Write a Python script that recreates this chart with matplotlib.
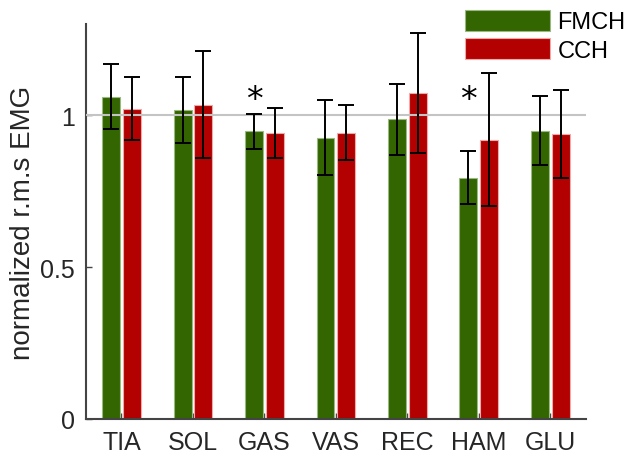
import matplotlib.pyplot as plt
import numpy as np

# muscles and mean normalized rms EMG per condition
muscles = ['TIA', 'SOL', 'GAS', 'VAS', 'REC', 'HAM', 'GLU']
fmch = [1.060, 1.017, 0.947, 0.926, 0.987, 0.794, 0.949]
fmch_err = [0.107, 0.110, 0.057, 0.124, 0.117, 0.087, 0.114]
cch = [1.022, 1.035, 0.942, 0.942, 1.073, 0.920, 0.939]
cch_err = [0.103, 0.175, 0.082, 0.091, 0.198, 0.218, 0.145]
significant = ['GAS', 'HAM']

plt.rcParams['font.family'] = ['Liberation Sans', 'DejaVu Sans']

fig = plt.figure(figsize=(6.26, 4.56), dpi=100)
ax = fig.add_axes([0.137, 0.079, 0.799, 0.866])

x = np.arange(1, len(muscles) + 1)
off = 0.145
w = 0.25

ax.bar(x - off, fmch, w, color='#336600', edgecolor='#9bb883', linewidth=0.8, label='FMCH', zorder=2)
ax.bar(x + off, cch, w, color='#b30000', edgecolor='#eea9a9', linewidth=0.8, label='CCH', zorder=2)
ax.axhline(1, color='#c4c4c4', linewidth=1.5, zorder=3)
ax.errorbar(x - off, fmch, yerr=fmch_err, fmt='none', ecolor='black', elinewidth=1.4, capsize=6, capthick=1.4, zorder=4)
ax.errorbar(x + off, cch, yerr=cch_err, fmt='none', ecolor='black', elinewidth=1.4, capsize=6, capthick=1.4, zorder=4)

for m in significant:
    i = muscles.index(m)
    ax.text(x[i] - off, 1.052, '*', fontsize=24, ha='center', va='center', family='DejaVu Sans')

ax.set_xlim(0.5, 7.5)
ax.set_ylim(0, 1.3)
ax.set_xticks(x)
ax.set_xticklabels(muscles)
ax.set_yticks([0, 0.5, 1])
ax.set_yticklabels(['0', '0.5', '1'])
ax.tick_params(direction='in', length=4, width=1, color='#444444', labelsize=18, labelcolor='#262626', pad=8)
ax.set_ylabel('normalized r.m.s EMG', fontsize=20, color='#262626', labelpad=3)

for s in ['top', 'right']:
    ax.spines[s].set_visible(False)
for s in ['left', 'bottom']:
    ax.spines[s].set_color('#444444')
    ax.spines[s].set_linewidth(1.5)

fig.legend(loc='upper left', bbox_to_anchor=(0.717, 1.013), frameon=False, fontsize=17,
           handlelength=3.6, handleheight=1.0, labelspacing=0.2, handletextpad=0.3, borderpad=0.2)

plt.savefig('out.png')
